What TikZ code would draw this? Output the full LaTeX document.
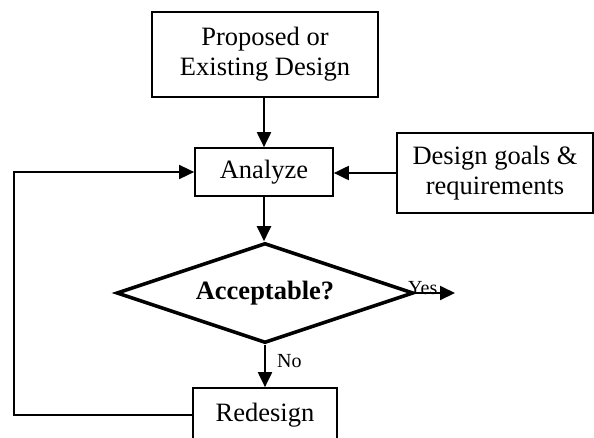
\documentclass[tikz,border=0pt]{standalone}
\usepackage{fontspec}
\setmainfont{Liberation Serif}
\usetikzlibrary{shapes.geometric,arrows.meta}
\begin{document}
\begin{tikzpicture}[x=1pt,y=-1pt,
  box/.style={draw,line width=1.7pt,inner sep=0pt,font=\fontsize{26.5}{30}\selectfont,align=center},
  decision/.style={draw,diamond,line width=3.6pt,inner sep=0pt,shape aspect=2.97,
    minimum width=297pt,minimum height=100pt,font=\fontsize{26.5}{30}\selectfont\bfseries},
  flow/.style={line width=2pt,-{Triangle[length=15pt,width=14pt]}},
  loopline/.style={line width=1.6pt,-{Triangle[length=15pt,width=14pt]}},
  tag/.style={font=\fontsize{20}{23}\selectfont,inner sep=0pt}]
\useasboundingbox (0,0) rectangle (594,437);

\node[box,minimum width=226pt,minimum height=85pt] (top) at (265,54.5)
  {Proposed or\\Existing Design};
\node[box,minimum width=138pt,minimum height=48pt] (analyze) at (264,172) {Analyze};
\node[box,minimum width=196pt,minimum height=80pt] (goals) at (495,173)
  {Design goals \&\\requirements};
\node[decision] (dia) at (265,293) {Acceptable?};
\node[box,minimum width=144pt,minimum height=54pt] (redesign) at (265,415) {Redesign};

\coordinate (yesend) at (455,293);
\coordinate (loopx) at (14,0);

\draw[flow] (top.south -| analyze.north) -- (analyze.north);
\draw[flow] (goals.west) -- (goals.west -| analyze.east);
\draw[flow] (analyze.south) -- (analyze.south |- dia.north);
\draw[flow] (dia.east) -- (yesend);
\draw[flow] (dia.south) -- (redesign.north);
\draw[loopline] (redesign.west) -- (loopx |- redesign.west) -- (loopx |- analyze.west) -- (analyze.west);

\node[tag,anchor=south west] (yes) at (408,294.5) {Yes};
\node[tag,anchor=west] (no) at (277,361) {No};
\end{tikzpicture}
\end{document}
